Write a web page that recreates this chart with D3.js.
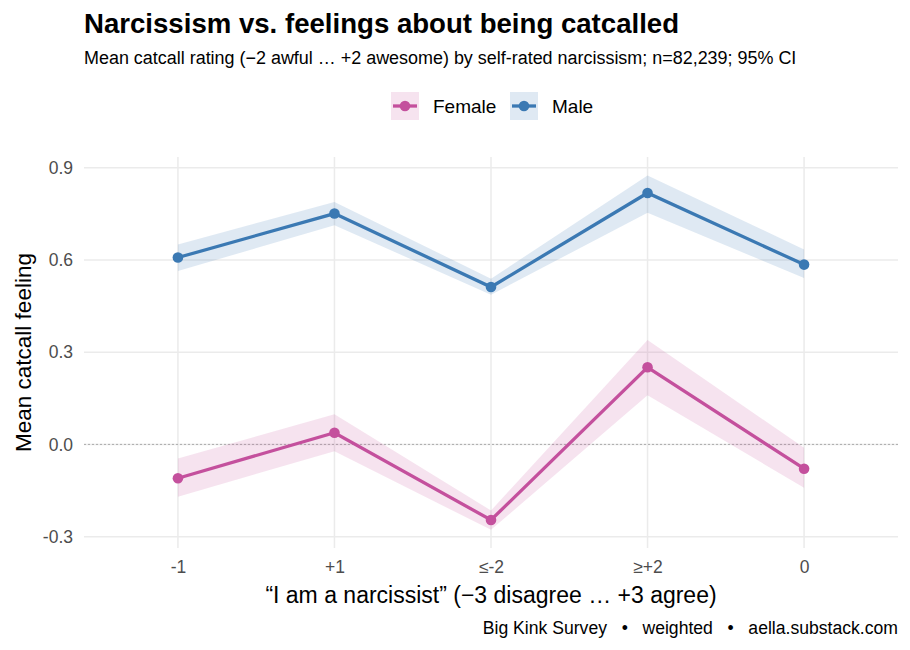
<!DOCTYPE html>
<html>
<head>
<meta charset="utf-8">
<script src="https://cdn.jsdelivr.net/npm/d3@7"></script>
<style>
  body { margin: 0; background: #fff; }
  svg { font-family: "Liberation Sans", Arial, sans-serif; }
</style>
</head>
<body>
<svg id="chart" width="910" height="650"></svg>
<script>
// categories in the order they are plotted
var categories = ["-1", "+1", "\u2264-2", "\u2265+2", "0"];
var groups = ["Female", "Male"];

// means and 95% CI per group
var femaleMean = [-0.110, 0.038, -0.246, 0.251, -0.079];
var femaleLow  = [-0.170, -0.022, -0.278, 0.160, -0.141];
var femaleHigh = [-0.046, 0.098, -0.215, 0.340, -0.011];

var maleMean = [0.608, 0.751, 0.512, 0.818, 0.585];
var maleLow  = [0.564, 0.713, 0.487, 0.754, 0.541];
var maleHigh = [0.650, 0.789, 0.539, 0.875, 0.634];

var yTicks = [-0.3, 0, 0.3, 0.6, 0.9];

var colors = { Female: "#c4509d", Male: "#3b79b3" };

var series = [
  { key: "Female", mean: femaleMean, low: femaleLow, high: femaleHigh },
  { key: "Male", mean: maleMean, low: maleLow, high: maleHigh }
];

var svg = d3.select("#chart"),
    margin = {top: 157, right: 12, bottom: 102, left: 84},
    width = +svg.attr("width") - margin.left - margin.right,
    height = +svg.attr("height") - margin.top - margin.bottom,
    g = svg.append("g").attr("transform", "translate(" + margin.left + "," + margin.top + ")");

var x = d3.scalePoint()
    .domain(categories)
    .range([0, width])
    .padding(0.6);

var y = d3.scaleLinear()
    .domain([-0.337, 0.935])
    .range([height, 0]);

// grid
g.append("g").selectAll("line")
  .data(yTicks)
  .enter().append("line")
    .attr("x1", 0).attr("x2", width)
    .attr("y1", function(d) { return y(d); })
    .attr("y2", function(d) { return y(d); })
    .attr("stroke", "#ebebeb")
    .attr("stroke-width", 1.5);

g.append("g").selectAll("line")
  .data(categories)
  .enter().append("line")
    .attr("x1", function(d) { return x(d); })
    .attr("x2", function(d) { return x(d); })
    .attr("y1", 0).attr("y2", height)
    .attr("stroke", "#ebebeb")
    .attr("stroke-width", 1.5);

// zero reference
g.append("line")
    .attr("x1", 0).attr("x2", width)
    .attr("y1", y(0)).attr("y2", y(0))
    .attr("stroke", "#999")
    .attr("stroke-width", 0.8)
    .attr("stroke-dasharray", "2,2");

var area = d3.area()
    .x(function(d, i) { return x(categories[i]); })
    .y0(function(d) { return y(d[0]); })
    .y1(function(d) { return y(d[1]); });

var line = d3.line()
    .x(function(d, i) { return x(categories[i]); })
    .y(function(d) { return y(d); });

series.forEach(function(s) {
  var band = s.low.map(function(v, i) { return [v, s.high[i]]; });
  g.append("path")
      .datum(band)
      .attr("d", area)
      .attr("fill", colors[s.key])
      .attr("fill-opacity", 0.16);
});

series.forEach(function(s) {
  g.append("path")
      .datum(s.mean)
      .attr("d", line)
      .attr("fill", "none")
      .attr("stroke", colors[s.key])
      .attr("stroke-width", 3.3);

  g.append("g").selectAll("circle")
    .data(s.mean)
    .enter().append("circle")
      .attr("cx", function(d, i) { return x(categories[i]); })
      .attr("cy", function(d) { return y(d); })
      .attr("r", 5.3)
      .attr("fill", colors[s.key]);
});

// axes (no lines, only labels)
var yAxis = g.append("g")
    .call(d3.axisLeft(y).tickValues(yTicks).tickSize(0).tickPadding(11)
      .tickFormat(function(d) { return d.toFixed(1); }));
yAxis.select(".domain").remove();
yAxis.selectAll("text")
    .attr("font-size", 17.5)
    .attr("fill", "#4d4d4d")
    .attr("font-family", "Liberation Sans, Arial, sans-serif");

var xAxis = g.append("g")
    .attr("transform", "translate(0," + height + ")")
    .call(d3.axisBottom(x).tickSize(0).tickPadding(13));
xAxis.select(".domain").remove();
xAxis.selectAll("text")
    .attr("font-size", 17.5)
    .attr("fill", "#4d4d4d")
    .attr("font-family", "Liberation Sans, Arial, sans-serif");

// axis titles
svg.append("text")
    .attr("x", margin.left + width / 2)
    .attr("y", 603)
    .attr("text-anchor", "middle")
    .attr("font-size", 23)
    .attr("fill", "#000")
    .text("\u201cI am a narcissist\u201d (\u22123 disagree \u2026 +3 agree)");

svg.append("text")
    .attr("transform", "translate(31," + (margin.top + height / 2) + ") rotate(-90)")
    .attr("text-anchor", "middle")
    .attr("font-size", 22.5)
    .attr("fill", "#000")
    .text("Mean catcall feeling");

// title block
svg.append("text")
    .attr("x", 84).attr("y", 33)
    .attr("font-size", 27.6)
    .attr("font-weight", "bold")
    .text("Narcissism vs. feelings about being catcalled");

svg.append("text")
    .attr("x", 84).attr("y", 64)
    .attr("font-size", 17.95)
    .text("Mean catcall rating (\u22122 awful \u2026 +2 awesome) by self-rated narcissism; n=82,239; 95% CI");

// legend
var legend = svg.append("g")
    .attr("transform", "translate(391,92)")
  .selectAll("g")
  .data(groups)
  .enter().append("g")
    .attr("transform", function(d, i) { return "translate(" + (i * 119) + ",0)"; });

legend.append("rect")
    .attr("width", 28).attr("height", 28)
    .attr("fill", function(d) { return colors[d]; })
    .attr("fill-opacity", 0.16);

legend.append("line")
    .attr("x1", 2).attr("x2", 26)
    .attr("y1", 14).attr("y2", 14)
    .attr("stroke", function(d) { return colors[d]; })
    .attr("stroke-width", 3.3);

legend.append("circle")
    .attr("cx", 14).attr("cy", 14).attr("r", 5.3)
    .attr("fill", function(d) { return colors[d]; });

legend.append("text")
    .attr("x", 42).attr("y", 14)
    .attr("dy", "0.35em")
    .attr("font-size", 19)
    .text(function(d) { return d; });

// caption
svg.append("text")
    .attr("x", 898).attr("y", 634)
    .attr("text-anchor", "end")
    .attr("font-size", 17.6)
    .style("white-space", "pre")
    .text("Big Kink Survey   \u2022   weighted   \u2022   aella.substack.com");
</script>
</body>
</html>
